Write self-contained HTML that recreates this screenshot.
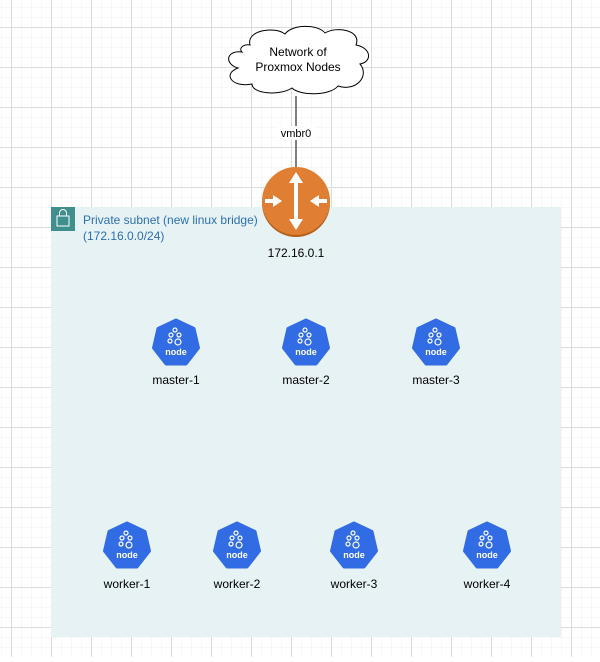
<!DOCTYPE html>
<html><head><meta charset="utf-8"><style>
html,body{margin:0;padding:0;}
body{width:600px;height:657px;overflow:hidden;background:#fff;font-family:"Liberation Sans",Arial,sans-serif;}
</style></head><body>
<svg width="600" height="657" xmlns="http://www.w3.org/2000/svg" font-family="Liberation Sans, Arial, sans-serif">
<defs>
<pattern id="minor" x="1" y="7" width="10" height="10" patternUnits="userSpaceOnUse">
<path d="M0 0H10M0 0V10" stroke="#f1f1f1" stroke-width="1" fill="none"/>
</pattern>
<pattern id="major" x="11" y="27" width="40" height="40" patternUnits="userSpaceOnUse">
<path d="M0.5 0V40M0 0.5H40" stroke="#dcdcdc" stroke-width="1" fill="none"/>
</pattern>
<g id="node">
<path d="M0,-23 L18,-14.5 L22.5,5 L10,21 L-10,21 L-22.5,5 L-18,-14.5 Z" fill="#326ce5" stroke="#326ce5" stroke-width="3" stroke-linejoin="round"/>
<g fill="none" stroke="#fff" stroke-width="1.2">
<circle cx="-1" cy="-13" r="2"/><circle cx="-5" cy="-8" r="2"/><circle cx="3" cy="-8" r="2"/>
<circle cx="-6" cy="-2" r="2"/><circle cx="2" cy="-1" r="3"/>
</g>
<text x="0" y="12" font-size="9" fill="#fff" text-anchor="middle" font-weight="bold">node</text>
</g>
</defs>
<rect width="600" height="657" fill="url(#minor)"/>
<rect width="600" height="657" fill="url(#major)"/>
<!-- subnet -->
<rect x="51" y="207" width="510" height="430" fill="#e6f2f3"/>
<rect x="51" y="207" width="24" height="24" fill="#3f8f8f"/>
<rect x="57" y="216" width="12" height="10" fill="none" stroke="#fff" stroke-width="1"/>
<path d="M59.5 216v-3a3.5 3.5 0 0 1 7 0v3" fill="none" stroke="#fff" stroke-width="1"/>
<text x="83" y="224" font-size="12" fill="#2e6fb4">Private subnet (new linux bridge)</text>
<text x="83" y="240" font-size="12" fill="#2e6fb4">(172.16.0.0/24)</text>
<!-- cloud -->
<path d="M250,45 C246,30 275,26 285,34 C292,24 318,24 325,33 C336,26 362,30 356,45 C372,48 372,62 360,64 C370,76 356,92 338,86 C330,96 300,96 292,88 C280,96 252,94 252,84 C232,88 222,74 238,68 C224,64 226,50 242,52 C238,48 244,44 250,45 Z" fill="#fff" stroke="#000" stroke-width="1"/>
<text x="298" y="56" font-size="12" text-anchor="middle">Network of</text>
<text x="298" y="71" font-size="12" text-anchor="middle">Proxmox Nodes</text>
<!-- line -->
<line x1="296" y1="96" x2="296" y2="168" stroke="#555" stroke-width="1.5"/>
<rect x="277" y="126" width="38" height="14" fill="#fff"/>
<text x="296" y="137" font-size="11" text-anchor="middle">vmbr0</text>
<!-- router -->
<circle cx="296" cy="203" r="34" fill="#b35f1c"/>
<circle cx="296" cy="201" r="34" fill="#e07f33"/>
<g fill="#fff">
<rect x="294" y="181" width="4" height="40"/>
<path d="M296,172 L289,183 L303,183 Z"/>
<path d="M296,230 L289,219 L303,219 Z"/>
<rect x="265" y="199" width="10" height="4"/>
<path d="M282,201 L273,195 L273,207 Z"/>
<rect x="317" y="199" width="10" height="4"/>
<path d="M310,201 L319,195 L319,207 Z"/>
</g>
<text x="296" y="257" font-size="12" text-anchor="middle">172.16.0.1</text>
<!-- masters -->
<use href="#node" x="176" y="343"/><text x="176" y="384" font-size="12" text-anchor="middle">master-1</text>
<use href="#node" x="306" y="343"/><text x="306" y="384" font-size="12" text-anchor="middle">master-2</text>
<use href="#node" x="436" y="343"/><text x="436" y="384" font-size="12" text-anchor="middle">master-3</text>
<!-- workers -->
<use href="#node" x="127" y="546"/><text x="127" y="588" font-size="12" text-anchor="middle">worker-1</text>
<use href="#node" x="237" y="546"/><text x="237" y="588" font-size="12" text-anchor="middle">worker-2</text>
<use href="#node" x="354" y="546"/><text x="354" y="588" font-size="12" text-anchor="middle">worker-3</text>
<use href="#node" x="487" y="546"/><text x="487" y="588" font-size="12" text-anchor="middle">worker-4</text>
</svg>
</body></html>
